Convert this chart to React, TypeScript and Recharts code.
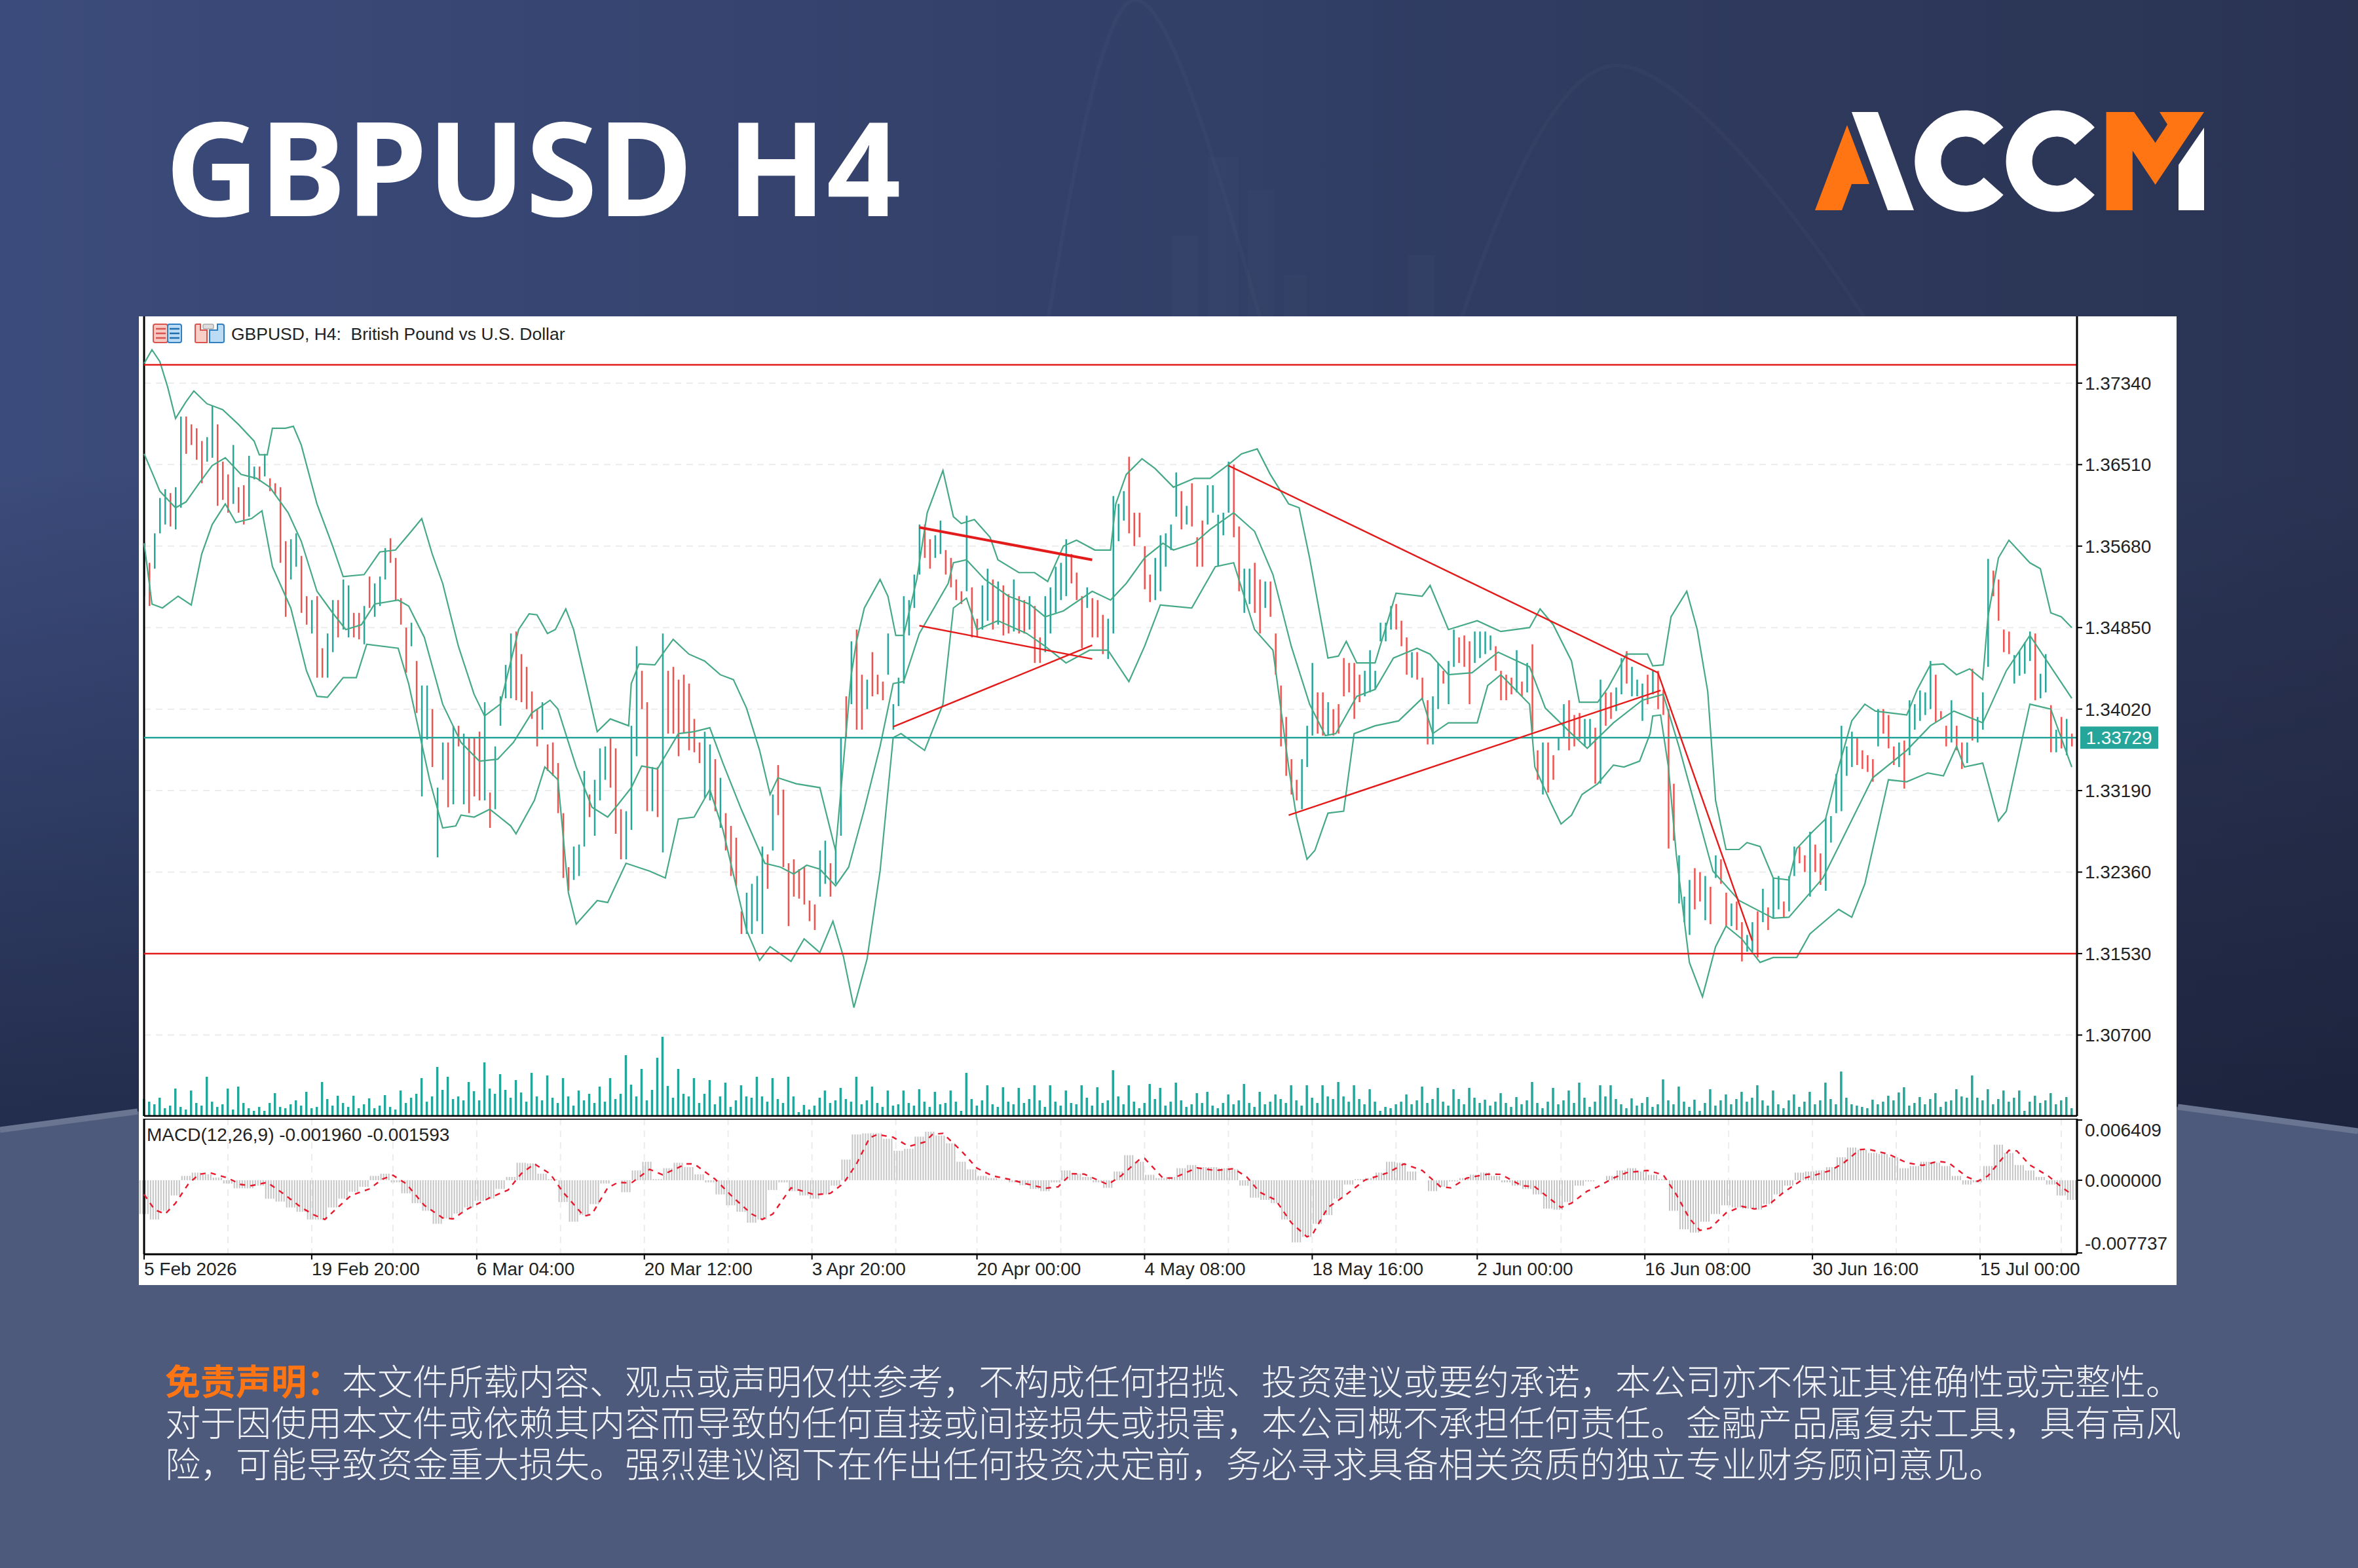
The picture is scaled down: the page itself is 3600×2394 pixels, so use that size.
import React from "react";
import {
  Bar,
  CartesianGrid,
  Cell,
  ComposedChart,
  Line,
  ReferenceLine,
  XAxis,
  YAxis,
} from "recharts";

// prices are kept as pips above 1.3000, one entry per second H4 bar
const barHighs = [
  571,551,581,617,626,622,628,700,700,692,688,675,679,711,692,654,641,671,628,630,
  660,649,649,662,637,632,628,573,575,581,558,517,513,517,464,479,513,513,534,528,
  500,500,507,537,530,537,566,576,556,515,485,490,451,426,426,402,322,368,368,385,
  385,377,373,373,379,409,317,364,415,447,479,481,458,445,420,402,409,366,368,347,
  296,241,262,264,339,315,330,362,364,373,362,300,298,385,466,441,409,343,343,479,
  441,445,432,437,428,392,368,379,366,351,332,296,283,271,196,215,224,232,262,254,
  315,345,320,245,249,239,241,207,203,258,268,245,260,373,415,471,483,437,432,460,
  437,430,479,407,434,517,513,539,590,590,575,579,594,564,556,534,522,599,526,494,
  528,545,534,532,528,519,534,517,513,517,507,475,517,526,547,551,575,560,541,517,
  526,515,513,498,494,619,611,624,659,602,602,568,539,556,579,581,590,643,624,609,
  632,577,594,630,630,600,602,654,651,588,545,545,551,534,532,532,479,426,394,351,
  330,351,385,449,419,419,409,402,407,454,449,449,437,441,462,441,490,490,507,509,
  492,475,460,460,434,411,415,449,441,451,483,475,477,471,481,481,481,477,466,441,
  437,434,462,430,449,468,360,368,368,355,373,407,411,396,398,392,392,383,432,419,
  419,424,454,461,445,432,428,437,441,441,422,402,326,253,211,228,240,236,232,221,
  253,249,215,204,206,185,172,185,196,219,200,230,232,206,232,262,262,253,277,264,
  255,291,293,336,385,364,379,373,360,355,351,402,402,396,364,368,370,411,407,421,
  419,451,437,400,385,411,385,368,368,443,394,419,555,543,534,483,481,457,461,470,
  481,479,438,458,406,381,394,392,377,
];
const barLows = [
  517,507,545,581,590,588,585,607,662,671,656,632,654,658,609,615,602,611,602,590,
  598,636,634,639,624,620,551,496,534,547,500,488,479,434,434,434,460,475,483,475,
  475,473,468,505,496,507,534,551,513,488,439,466,398,313,371,343,251,330,302,305,
  364,305,296,313,309,309,281,300,385,413,413,411,409,402,392,364,381,339,334,296,
  230,217,228,232,262,292,273,309,330,322,275,249,249,279,354,402,298,298,292,256,
  377,377,354,377,360,358,347,311,309,298,281,258,232,222,173,173,173,186,173,219,
  258,294,241,181,211,209,203,186,177,211,224,211,224,273,373,407,381,381,402,415,
  417,411,437,381,405,428,477,505,539,556,545,556,560,539,526,513,509,522,475,475,
  483,492,483,488,477,479,481,479,479,483,449,449,460,479,500,513,517,530,513,464,
  505,475,475,458,453,479,573,594,581,568,577,524,511,513,522,547,564,598,585,590,
  588,547,547,590,602,547,579,602,577,522,500,509,500,479,505,496,437,364,334,315,
  309,300,343,375,377,375,375,375,377,415,419,392,409,415,419,422,471,471,483,483,
  466,437,434,432,411,366,366,402,428,407,445,449,445,407,449,454,458,462,441,411,
  411,417,419,415,419,379,330,315,317,330,360,373,360,364,371,364,364,326,326,385,
  392,400,417,428,415,415,390,407,417,402,396,260,268,204,185,172,198,206,187,183,
  230,224,181,181,177,145,155,155,149,185,177,189,198,189,196,232,245,236,211,236,
  223,217,266,296,298,334,343,345,341,338,328,364,377,362,345,343,321,355,381,390,
  396,402,389,392,364,368,360,341,347,370,368,381,445,517,492,460,458,428,436,438,
  451,411,413,419,358,358,362,355,364,
];
const barUp = [
  1,0,1,1,1,0,1,1,0,0,0,0,1,1,0,0,0,1,0,0,1,1,0,1,0,0,0,0,1,1,0,0,1,0,0,1,1,0,1,1,
  0,0,1,0,1,1,1,0,0,0,0,1,0,1,1,0,1,1,0,1,0,1,0,0,0,1,0,1,1,1,1,0,0,0,0,0,1,0,0,0,
  0,0,1,1,1,0,1,1,1,0,0,0,1,1,1,0,0,1,0,1,0,0,0,0,0,0,0,1,1,0,1,0,0,0,0,1,1,1,1,0,
  1,0,0,0,0,0,0,0,0,1,1,0,1,1,0,1,0,0,1,0,0,0,1,1,1,1,1,1,1,0,0,1,1,0,0,0,0,1,0,0,
  1,1,0,1,0,0,1,0,0,1,0,0,1,1,1,1,1,0,0,0,1,0,0,0,1,1,1,1,0,0,0,0,0,1,1,1,1,1,0,1,
  0,0,0,1,1,1,1,1,0,0,1,1,0,0,1,0,0,0,0,0,0,1,1,1,0,0,1,0,0,0,0,0,0,1,1,1,1,1,1,0,
  0,0,1,0,0,0,1,1,0,1,1,0,0,0,1,1,1,1,0,0,0,0,1,0,1,0,0,1,0,0,1,1,0,0,0,1,1,0,1,0,
  0,1,1,0,1,1,1,0,1,0,0,0,0,1,1,1,0,0,1,0,1,0,0,1,0,0,1,1,0,1,0,1,1,0,1,1,0,0,1,0,
  0,1,1,1,1,1,1,0,0,0,0,1,0,0,0,1,0,1,1,1,1,1,0,0,0,1,0,0,1,0,1,1,1,0,0,0,0,1,1,1,
  1,0,1,1,0,1,0,1,0,
];
const tickVolume = [
  26,22,18,28,12,16,42,14,10,39,20,16,60,22,14,18,42,10,45,20,12,8,14,8,20,35,14,12,18,24,
  16,37,12,14,52,26,16,31,20,14,31,12,18,27,12,16,32,14,10,39,20,28,34,58,22,30,75,40,60,26,
  30,24,52,38,24,82,42,34,64,40,28,55,36,22,66,30,24,62,28,20,58,30,16,39,24,34,20,45,22,58,
  26,34,93,48,30,72,24,40,89,121,46,28,72,34,30,58,20,34,55,18,30,51,14,24,47,30,28,60,30,22,
  58,26,20,60,30,6,17,10,16,28,39,20,24,43,26,22,60,18,24,45,20,14,39,16,18,39,20,16,41,22,
  14,37,18,20,39,22,8,66,26,16,24,47,18,14,44,22,18,43,20,26,47,24,14,47,22,16,39,20,18,47,
  28,16,44,20,24,70,30,18,47,22,12,20,49,26,43,16,22,51,24,14,18,35,20,37,16,12,20,33,18,24,
  49,20,14,37,18,22,33,26,20,47,24,16,47,28,20,47,30,26,52,30,22,47,26,18,41,22,8,14,12,18,
  22,33,18,24,45,20,26,43,22,16,41,26,18,43,28,20,25,16,22,35,20,14,29,18,24,52,20,12,22,43,
  18,24,39,20,51,28,14,22,47,30,47,26,18,12,27,16,20,29,14,18,56,24,18,45,22,14,25,8,20,41,
  16,24,33,18,26,37,22,28,47,24,16,39,18,12,24,33,14,22,37,18,24,51,26,18,68,28,18,16,14,12,
  25,18,22,31,24,36,44,16,20,29,18,26,35,14,22,24,41,30,28,62,28,24,41,18,26,39,22,28,39,8,
  22,31,20,24,35,18,24,29,12,
];

// bollinger bands as [bar, pips]
const upperBand = [
  [0,754],[3,768],[6,756],[9,730],[12,698],[16,715],[19,726],[24,713],[30,707],[36,692],[42,675],[44,661],[47,661],[49,688],[54,688],[57,690],[60,671],[66,611],[72,568],[76,537],[84,539],[90,562],[96,564],[102,583],[106,596],[110,560],[114,530],[120,466],[126,417],[130,395],[136,407],[143,483],[147,499],[150,498],[154,479],[157,483],[161,504],[164,483],[168,437],[173,379],[178,392],[185,385],[186,428],[189,448],[195,447],[199,462],[202,473],[208,458],[214,451],[220,437],[225,432],[230,403],[235,360],[239,315],[242,332],[249,326],[258,322],[264,258],[270,437],[272,471],[275,505],[281,534],[284,517],[287,477],[290,477],[295,534],[299,602],[305,645],[309,598],[312,591],[317,595],[323,577],[326,554],[334,541],[340,541],[345,532],[351,568],[356,574],[363,564],[369,564],[371,611],[375,641],[381,657],[386,647],[393,628],[401,637],[407,637],[414,651],[419,662],[425,667],[430,641],[437,611],[441,607],[445,556],[452,454],[456,456],[459,471],[463,449],[470,449],[478,520],[488,517],[491,528],[498,483],[509,492],[518,481],[529,485],[533,504],[538,488],[545,451],[548,409],[555,409],[559,424],[566,458],[574,458],[576,446],[580,447],[583,496],[589,522],[593,483],[597,420],[600,309],[604,259],[609,259],[612,266],[617,262],[622,230],[628,228],[631,260],[637,277],[642,290],[647,343],[652,390],[657,407],[661,400],[673,396],[677,422],[682,447],[687,448],[692,437],[697,443],[702,432],[704,496],[708,556],[712,574],[720,551],[724,545],[728,500],[732,496],[736,485],
];
const middleBand = [
  [0,662],[4,637],[6,624],[12,607],[16,613],[21,632],[26,650],[31,658],[37,641],[43,637],[48,628],[55,602],[60,573],[66,522],[72,500],[77,483],[83,488],[88,509],[97,513],[101,507],[107,475],[114,407],[121,368],[128,349],[135,351],[141,368],[148,398],[155,411],[158,402],[165,343],[171,302],[177,292],[181,305],[186,322],[190,344],[196,341],[204,377],[210,379],[216,383],[221,347],[228,300],[237,245],[243,241],[248,234],[253,243],[258,239],[264,222],[269,241],[275,300],[281,364],[286,428],[290,430],[296,479],[307,530],[309,551],[314,554],[321,534],[330,517],[338,509],[344,496],[351,502],[362,522],[369,513],[375,530],[382,556],[389,571],[393,564],[401,571],[407,585],[416,602],[424,583],[431,539],[438,466],[445,407],[451,375],[455,377],[463,415],[470,422],[477,454],[486,464],[491,458],[498,437],[507,439],[517,460],[529,445],[535,403],[545,377],[551,362],[561,388],[572,411],[580,417],[586,364],[599,237],[609,207],[622,189],[628,190],[641,230],[647,262],[660,332],[673,360],[682,385],[691,400],[702,388],[711,441],[720,477],[727,449],[736,413],
];
const lowerBand = [
  [0,571],[3,509],[7,505],[13,517],[18,508],[22,560],[26,590],[31,611],[35,592],[41,596],[45,604],[49,547],[56,505],[62,441],[66,415],[70,414],[76,434],[81,434],[85,468],[97,464],[101,428],[109,330],[114,281],[119,283],[121,294],[126,292],[132,300],[140,283],[142,275],[149,309],[153,343],[158,330],[162,215],[165,183],[173,207],[177,205],[184,245],[193,237],[199,230],[204,290],[210,292],[216,320],[221,279],[230,177],[235,146],[239,160],[247,145],[252,168],[258,154],[263,186],[267,150],[271,98],[276,147],[281,237],[286,373],[289,377],[298,360],[305,407],[309,505],[314,515],[318,483],[326,492],[337,479],[344,466],[352,449],[361,462],[368,462],[376,430],[382,466],[388,508],[400,505],[409,547],[416,551],[424,483],[431,462],[437,343],[440,292],[444,249],[447,258],[452,296],[458,298],[462,377],[470,385],[479,390],[488,413],[492,377],[498,388],[509,388],[513,426],[518,437],[529,407],[531,343],[537,307],[541,285],[545,294],[549,315],[555,326],[561,345],[565,343],[571,349],[575,377],[576,395],[579,396],[582,343],[585,254],[590,144],[595,109],[600,160],[604,181],[610,168],[617,144],[622,149],[631,149],[636,173],[647,198],[652,190],[657,224],[666,330],[673,328],[681,337],[687,334],[692,364],[695,343],[702,347],[708,288],[711,298],[720,407],[728,402],[736,343],
];

// MACD in units of 0.00001, histogram has one entry per 4 bars
const macdHist = [
  -360,-418,-325,-162,46,81,63,28,-35,-86,-86,-58,-197,-227,-290,-336,-418,-418,-290,-197,-123,-70,46,70,-23,-139,-244,-325,-464,-406,
  -355,-290,-220,-197,-93,35,186,179,70,12,-232,-441,-371,-255,-35,0,-128,104,197,12,128,186,139,63,-23,-151,-267,-336,-452,-418,
  -104,-23,-116,-162,-197,-151,-58,220,487,499,499,441,313,336,464,517,476,394,197,116,46,23,5,-23,-53,-93,-116,-23,104,70,
  35,-23,-81,93,267,197,58,23,35,128,162,139,139,128,116,-58,-186,-209,-244,-418,-661,-603,-464,-371,-197,-46,12,23,81,197,
  186,93,0,-116,-70,-12,23,58,81,46,-23,-58,-93,-151,-302,-313,-232,-58,-12,0,46,104,128,93,58,12,-325,-522,-557,-441,
  -360,-267,-290,-302,-313,-255,-151,-58,81,93,104,139,244,348,325,290,278,244,128,151,197,186,151,46,-46,-23,151,378,290,162,
  104,35,-46,-162,-209,
];
const macdSignal = [
  [0,-151],[4,-313],[8,-360],[12,-244],[17,-35],[21,63],[25,81],[32,23],[37,-46],[41,-58],[47,-23],[53,-139],[60,-290],[65,-371],[69,-418],[73,-313],[79,-162],[86,-93],[91,12],[95,53],[100,-35],[107,-267],[114,-401],[118,-411],[123,-313],[132,-186],[139,-104],[144,70],[149,174],[155,70],[160,-128],[168,-383],[171,-360],[177,-81],[181,-23],[186,-30],[193,116],[198,58],[207,174],[210,174],[218,12],[225,-186],[232,-360],[236,-418],[240,-360],[247,-81],[253,-128],[256,-155],[262,-139],[267,-35],[272,174],[277,452],[280,487],[286,457],[292,360],[298,406],[301,487],[305,499],[312,313],[318,128],[324,46],[330,12],[337,-39],[344,-86],[349,-70],[354,70],[359,65],[368,-46],[373,46],[380,220],[382,232],[389,23],[393,23],[402,132],[409,104],[416,123],[421,35],[426,-128],[432,-209],[438,-452],[444,-603],[446,-580],[452,-290],[458,-174],[466,0],[475,81],[481,174],[488,104],[495,-70],[499,-81],[505,23],[513,65],[518,63],[526,-58],[531,-70],[541,-290],[545,-244],[551,-116],[555,-70],[561,23],[566,81],[574,104],[580,58],[585,-151],[590,-406],[594,-534],[598,-510],[604,-348],[610,-278],[615,-306],[620,-267],[626,-128],[634,23],[644,104],[649,186],[655,325],[658,332],[666,278],[673,186],[679,158],[685,202],[689,186],[696,35],[700,-12],[704,46],[712,318],[715,313],[720,162],[727,46],[732,-70],[736,-151],
];

// hand drawn lines: start bar, start pips, end bar, end pips
const channelTop = [296,587,362,554];
const trendLines = [
  [296,487,362,453],
  [286,384,362,467],
  [414,650,578,439],
  [437,294,579,421],
  [578,439,614,166],
];
const supportResistance = [1.37527, 1.3153];
const lastPrice = 1.33729;

const priceTicks = [1.3734,1.3651,1.3568,1.3485,1.3402,1.3319,1.3236,1.3153,1.307];
const macdTicks = [0.006409, 0, -0.007737];
const timeBars = [0,64,127,191,255,318,382,446,509,573,637,701];
const timeLabels = [
  "5 Feb 2026","19 Feb 20:00","6 Mar 04:00","20 Mar 12:00","3 Apr 20:00","20 Apr 00:00",
  "4 May 08:00","18 May 16:00","2 Jun 00:00","16 Jun 08:00","30 Jun 16:00","15 Jul 00:00",
];
const gridBars = [32,64,95,127,159,191,223,255,287,318,350,382,414,446,478,509,541,573,605,637,669,701,732];

const disclaimerHead = "免责声明\uFF1A";
const disclaimer = [
  "本文件所载内容、观点或声明仅供参考\uFF0C不构成任何招揽、投资建议或要约承诺\uFF0C本公司亦不保证其准确性或完整性。",
  "对于因使用本文件或依赖其内容而导致的任何直接或间接损失或损害\uFF0C本公司概不承担任何责任。金融产品属复杂工具\uFF0C具有高风",
  "险\uFF0C可能导致资金重大损失。强烈建议阁下在作出任何投资决定前\uFF0C务必寻求具备相关资质的独立专业财务顾问意见。",
];

const TEAL = "#26a69a";
const RED = "#ef5350";
const LINE_RED = "#e31b1b";
const BAND = "#45a985";
const GRID = "#ececec";
const ORANGE = "#ff7514";
const AXIS_FONT = "'Liberation Sans', sans-serif";

const toPrice = (pips: number) => 1.3 + pips / 10000;
const toPoints = (band: number[][]) => band.map(([x, p]) => ({ x, y: toPrice(p) }));

const priceRows = barHighs.map((h, j) => ({
  x: j * 2,
  range: [toPrice(barLows[j]), toPrice(h)],
}));
const volumeRows = tickVolume.map((v, j) => ({ x: j * 2, v }));
const histRows = macdHist.map((v, k) => ({ x: k * 4, hist: v / 100000 }));
const signalRows = macdSignal.map(([x, v]) => ({ x, y: v / 100000 }));

const segmentOf = ([x1, p1, x2, p2]: number[]) => [
  { x: x1, y: toPrice(p1) },
  { x: x2, y: toPrice(p2) },
];

function LastPriceLabel({ viewBox }: any) {
  const left = viewBox.x + viewBox.width + 5;
  return (
    <g>
      <rect x={left} y={viewBox.y - 17} width={119} height={34} fill={TEAL} />
      <text x={left + 59} y={viewBox.y + 10} textAnchor="middle" fontSize={28} fontFamily={AXIS_FONT} fill="#fff">
        {lastPrice.toFixed(5)}
      </text>
    </g>
  );
}

function MacdTick({ x, y, payload }: any) {
  const shift = payload.value > 0 ? 25 : payload.value < 0 ? -5 : 10;
  return (
    <text x={x} y={y + shift} fontSize={28} fontFamily={AXIS_FONT} fill="#222">
      {payload.value.toFixed(6)}
    </text>
  );
}

function TimeTick({ x, y, payload }: any) {
  return (
    <text x={x} y={y + 22} fontSize={28} fontFamily={AXIS_FONT} fill="#222" textAnchor="start">
      {timeLabels[timeBars.indexOf(payload.value)]}
    </text>
  );
}

// one histogram entry covers 4 bars, so it is drawn as 4 thin stems
function HistStems({ x, y, width, height }: any) {
  const left = x + width / 2 - 8;
  return (
    <g fill="#c4c4c4">
      {[0, 4, 8, 12].map((dx) => (
        <rect key={dx} x={left + dx + 1} y={height < 0 ? y + height : y} width={2} height={Math.abs(height)} />
      ))}
    </g>
  );
}

function Backdrop() {
  return (
    <svg width={3600} height={2394} style={{ position: "absolute", left: 0, top: 0 }}>
      <defs>
        <linearGradient id="topSide" x1="0" y1="0" x2="1" y2="0">
          <stop offset="0" stopColor="#3b4b7b" />
          <stop offset="0.5" stopColor="#323f67" />
          <stop offset="1" stopColor="#2a3352" />
        </linearGradient>
        <linearGradient id="shade" x1="0" y1="0" x2="0" y2="1">
          <stop offset="0.3" stopColor="#141a30" stopOpacity="0" />
          <stop offset="0.72" stopColor="#141a30" stopOpacity="0.62" />
        </linearGradient>
      </defs>
      <rect width={3600} height={2394} fill="url(#topSide)" />
      <rect width={3600} height={2394} fill="url(#shade)" />
      <g fill="none" stroke="#ffffff" strokeOpacity={0.022} strokeWidth={6}>
        <path d="M1600 490C1660 120 1700 0 1733 0C1775 0 1830 150 1925 490" />
        <path d="M2230 490C2320 220 2400 100 2468 100C2550 100 2700 260 2850 490" />
      </g>
      <g fill="#ffffff" fillOpacity={0.015}>
        <rect x={1790} y={360} width={40} height={130} />
        <rect x={1845} y={240} width={45} height={250} />
        <rect x={1905} y={290} width={40} height={200} />
        <rect x={1960} y={420} width={35} height={70} />
        <rect x={2150} y={390} width={40} height={100} />
      </g>
      <path d="M0 1725L210 1697L3325 1690L3600 1727V2394H0Z" fill="#4e5a7c" />
      <path d="M0 1725L210 1697M3325 1690L3600 1727" stroke="#6a7592" strokeWidth={9} fill="none" />
      <text x={252} y={330} fontSize={199} fontWeight={700} fontFamily="'Noto Sans'" fill="#fff">
        GBPUSD H4
      </text>
      <g fill="#fff">
        <path d="M2827 171H2867L2922 321H2882Z" />
        <path d="M3326 251.7L3365 195V321H3326Z" />
      </g>
      <g fill={ORANGE}>
        <path d="M2820 191L2854 281H2827L2812 321H2771Z" />
        <path d="M3215.6 171H3258L3290.6 218L3309 190L3297 171H3365L3290.6 282L3255.8 230V321H3215.6Z" />
      </g>
      <g fill="none" stroke="#fff" strokeWidth={40}>
        <path d="M3043.7 207.7A57.5 57.5 0 1 0 3043.7 284.3" />
        <path d="M3183 207.7A57.5 57.5 0 1 0 3183 284.3" />
      </g>
    </svg>
  );
}

function ChartIcons() {
  return (
    <svg width={114} height={34} style={{ position: "absolute", left: 232, top: 492 }}>
      <rect x={2} y={3} width={22} height={28} rx={3} fill="#f6c9c3" stroke="#d9534f" strokeWidth={2} />
      <rect x={24} y={3} width={21} height={28} rx={3} fill="#bcdcf5" stroke="#2f7fc1" strokeWidth={2} />
      <path d="M6 10H21M6 17H21M6 24H21" stroke="#d9534f" strokeWidth={2.5} />
      <path d="M27 10H42M27 17H42M27 24H42" stroke="#1d6fb0" strokeWidth={2.5} />
      <path d="M66 5Q66 3 68 3H74V12H84V31H68Q66 31 66 29Z" fill="#f9cfc8" stroke="#d9534f" strokeWidth={2} />
      <path d="M88 31V12H100V3H107Q110 3 110 6V29Q110 31 107 31Z" fill="#bcdcf5" stroke="#2f7fc1" strokeWidth={2} />
      <rect x={78} y={3} width={16} height={7} rx={2} fill="#ddd" stroke="#aaa" strokeWidth={1.5} />
    </svg>
  );
}

export default function App() {
  const panelStyle = { position: "absolute", left: 212 } as React.CSSProperties;
  return (
    <div style={{ position: "absolute", left: 0, top: 0, width: 3600, height: 2394, overflow: "hidden" }}>
      <Backdrop />
      <div style={{ position: "absolute", left: 212, top: 483, width: 3111, height: 1479, background: "#fff" }} />

      <div style={{ ...panelStyle, top: 1570 }}>
        <ComposedChart
          width={3111}
          height={134}
          data={volumeRows}
          margin={{ top: 0, right: 152, bottom: 0, left: 8 }}
        >
          <XAxis dataKey="x" type="number" domain={[0, 738]} hide />
          <YAxis domain={[0, 134]} hide />
          <Bar dataKey="v" fill={TEAL} barSize={3.5} isAnimationActive={false} />
        </ComposedChart>
      </div>

      <div style={{ ...panelStyle, top: 483 }}>
        <ComposedChart
          width={3111}
          height={1222}
          data={priceRows}
          margin={{ top: 0, right: 0, bottom: 0, left: 8 }}
        >
          <CartesianGrid
            stroke={GRID}
            strokeWidth={2}
            strokeDasharray="10 8"
            horizontalValues={priceTicks}
            verticalValues={gridBars}
          />
          <XAxis
            dataKey="x"
            type="number"
            domain={[0, 738]}
            height={1}
            tick={false}
            tickLine={false}
            axisLine={{ stroke: "#000", strokeWidth: 3 }}
          />
          <YAxis
            orientation="right"
            width={152}
            domain={[1.29875, 1.3802]}
            allowDataOverflow
            ticks={priceTicks}
            interval={0}
            tickSize={8}
            tickMargin={4}
            tickFormatter={(v: number) => v.toFixed(5)}
            tick={{ fontSize: 28, fontFamily: AXIS_FONT, fill: "#222" }}
            tickLine={{ stroke: "#000", strokeWidth: 2 }}
            axisLine={{ stroke: "#000", strokeWidth: 3 }}
          />
          <ReferenceLine x={0} stroke="#000" strokeWidth={3} />
          <Bar dataKey="range" barSize={2.5} isAnimationActive={false}>
            {priceRows.map((row, j) => (
              <Cell key={row.x} fill={barUp[j] ? TEAL : RED} />
            ))}
          </Bar>
          <Line data={toPoints(upperBand)} dataKey="y" stroke={BAND} strokeWidth={2.2} dot={false} isAnimationActive={false} />
          <Line data={toPoints(middleBand)} dataKey="y" stroke={BAND} strokeWidth={2.2} dot={false} isAnimationActive={false} />
          <Line data={toPoints(lowerBand)} dataKey="y" stroke={BAND} strokeWidth={2.2} dot={false} isAnimationActive={false} />
          {supportResistance.map((p) => (
            <ReferenceLine key={p} y={p} stroke={LINE_RED} strokeWidth={2.5} />
          ))}
          <ReferenceLine y={lastPrice} stroke={TEAL} strokeWidth={2.5} label={LastPriceLabel} />
          <ReferenceLine segment={segmentOf(channelTop)} stroke={LINE_RED} strokeWidth={4} />
          {trendLines.map((t) => (
            <ReferenceLine key={t.join("-")} segment={segmentOf(t)} stroke={LINE_RED} strokeWidth={2.4} />
          ))}
        </ComposedChart>
      </div>

      <div style={{ ...panelStyle, top: 1708 }}>
        <ComposedChart
          width={3111}
          height={254}
          data={histRows}
          margin={{ top: 0, right: 0, bottom: 0, left: 8 }}
        >
          <CartesianGrid stroke={GRID} strokeWidth={2} strokeDasharray="10 8" horizontal={false} verticalValues={gridBars} />
          <XAxis
            dataKey="x"
            type="number"
            domain={[0, 738]}
            ticks={timeBars}
            interval={0}
            height={47}
            tickSize={8}
            tick={TimeTick}
            tickLine={{ stroke: "#000", strokeWidth: 2 }}
            axisLine={{ stroke: "#000", strokeWidth: 3 }}
          />
          <YAxis
            orientation="right"
            width={152}
            domain={[-0.00788, 0.00655]}
            allowDataOverflow
            ticks={macdTicks}
            interval={0}
            tickSize={8}
            tickMargin={4}
            tick={MacdTick}
            tickLine={{ stroke: "#000", strokeWidth: 2 }}
            axisLine={{ stroke: "#000", strokeWidth: 3 }}
          />
          <ReferenceLine x={0} stroke="#000" strokeWidth={3} />
          <ReferenceLine y={0.00655} stroke="#000" strokeWidth={3} />
          <Bar dataKey="hist" barSize={16} shape={HistStems} isAnimationActive={false} />
          <Line data={signalRows} dataKey="y" stroke="#e8192c" strokeWidth={2.4} strokeDasharray="8 8" dot={false} isAnimationActive={false} />
        </ComposedChart>
      </div>

      <ChartIcons />
      <div style={{ position: "absolute", left: 353, top: 492, fontFamily: AXIS_FONT, fontSize: 26.5, lineHeight: "36px", color: "#222", whiteSpace: "pre" }}>
        GBPUSD, H4:  British Pound vs U.S. Dollar
      </div>
      <div style={{ position: "absolute", left: 224, top: 1715, fontFamily: AXIS_FONT, fontSize: 28, lineHeight: "36px", color: "#222", whiteSpace: "pre" }}>
        MACD(12,26,9) -0.001960 -0.001593
      </div>

      <div style={{ position: "absolute", left: 252, top: 2075, fontFamily: "'Noto Sans CJK SC'", fontSize: 54, lineHeight: "63px", color: "#f2f3f7", whiteSpace: "nowrap", fontWeight: 300 }}>
        {disclaimer.map((line, i) => (
          <div key={i}>
            {i === 0 && <span style={{ color: ORANGE, fontWeight: 700 }}>{disclaimerHead}</span>}
            {line}
          </div>
        ))}
      </div>
    </div>
  );
}
